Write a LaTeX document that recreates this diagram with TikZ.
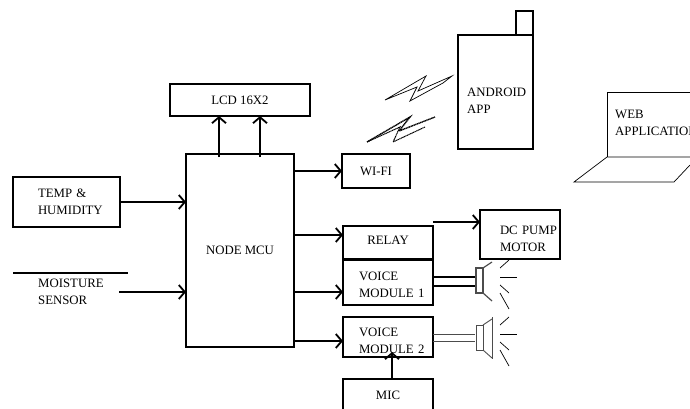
\documentclass[tikz,border=0pt]{standalone}
\usepackage{fontspec}
\setmainfont{Liberation Serif}
\usetikzlibrary{arrows.meta}
\newcommand{\vmispeaker}[1][]
{\begin{scope}[#1]
	\draw  (-7,-9) rectangle (0,16);
	\draw  (0,-9) -- (9,-15);
	\draw  (0,16) -- (9,24);
\end{scope}
}
\newcommand{\vmisound}[1][]
{\begin{scope}[#1]
	\draw  (17,-9) -- (26,-17);
	\draw  (17,0) -- (34,0);
	\draw  (17,8) -- (26,16);
	\draw  (17,16) -- (26,32);
\end{scope}
}
\tikzset{
	blockbox/.style={draw,line width=1.8pt,font=\fontsize{12.8}{17}\selectfont,align=left,outer sep=0pt},
	plaintext/.style={font=\fontsize{12.8}{17}\selectfont,align=left,anchor=west,inner sep=0pt},
	signal/.style={->,line width=1.8pt},
	thinline/.style={line width=.7pt},
}
\begin{document}
\begin{tikzpicture}[x={(1pt,0)},y={(0,-1pt)},>={Straight Barb[length=6pt,width=14pt]}]

\useasboundingbox (0,0) rectangle (690,409);
\clip (0,0) rectangle (690,409);

% blocks
\node [blockbox,minimum width=140pt,minimum height=32pt,align=center] (lcd) at (240,100) {LCD 16X2};
\node [blockbox,minimum width=108pt,minimum height=193pt,align=center,line width=1.5pt] (mcu) at (240,250.5) {NODE MCU};
\node [blockbox,text width=57pt,inner xsep=25pt,minimum height=50pt] (temp) at (66.5,202) {TEMP \&\\HUMIDITY};
\node [blockbox,minimum width=68pt,minimum height=34pt,align=center] (wifi) at (376,171) {WI-FI};
\node [blockbox,minimum width=90pt,minimum height=33pt,align=center] (relay) at (388,242.5) {\rule[-4pt]{0pt}{4pt}RELAY};
\node [blockbox,text width=58pt,inner xsep=16pt,minimum height=45pt] (voiceone) at (388,282.5) {\rule{0pt}{13pt}VOICE\\\mbox{MODULE 1}};
\node [blockbox,text width=58pt,inner xsep=16pt,minimum height=40pt] (voicetwo) at (388,337) {\rule{0pt}{17pt}VOICE\\\mbox{MODULE 2}};
\node [blockbox,minimum width=90pt,minimum height=32pt,align=center] (mic) at (388,395) {MIC};
\node [blockbox,text width=40pt,inner xsep=20pt,minimum height=49pt] (pump) at (520,234.5) {\rule{0pt}{17pt}\mbox{DC PUMP}\\MOTOR};
\node [plaintext] (moisture) at (38,291.5) {MOISTURE\\SENSOR};

% moisture sensor rule
\coordinate (moistureleft) at (13,273);
\coordinate (moistureright) at (128,273);
\draw [line width=1.5pt] (moistureleft) -- (moistureright);

% connectors
\coordinate (lcdleft) at (219,157);
\coordinate (lcdright) at (260,157);
\draw [signal] (lcdleft) -- (lcdleft |- lcd.south);
\draw [signal] (lcdright) -- (lcdright |- lcd.south);
\draw [signal] (temp) -- (temp -| mcu.west);
\coordinate (moistureout) at (119,292);
\draw [signal] (moistureout) -- (moistureout -| mcu.west);
\draw [signal] (mcu.east |- wifi) -- (wifi);
\coordinate (relayin) at (343,235);
\coordinate (voiceonein) at (343,292);
\coordinate (voicetwoin) at (343,341);
\draw [signal] (relayin -| mcu.east) -- (relayin);
\draw [signal] (voiceonein -| mcu.east) -- (voiceonein);
\draw [signal] (voicetwoin -| mcu.east) -- (voicetwoin);
\coordinate (pumpin) at (433,222);
\draw [signal] (pumpin) -- (pumpin -| pump.west);
\coordinate (micout) at (392,352);
\draw [signal] (micout |- mic.north) -- (micout);

% speakers
\coordinate (hornone) at (483,277);
\coordinate (horntwo) at (483,334);
\draw [line width=1.5pt] (voiceone.east |- hornone) -- ++(43,0);
\draw [line width=1.5pt] (voiceone.east |- hornone) ++(0,9) -- ++(43,0);
\draw [line width=.8pt,black!70] (voicetwo.east |- horntwo) -- ++(42,0);
\draw [line width=.8pt,black!70] (voicetwo.east |- horntwo) ++(0,7) -- ++(42,0);
\vmispeaker[line width=1.2pt,black!70,shift={(hornone)}];
\vmispeaker[line width=.9pt,black!70,shift={(horntwo)}];
\draw [line width=.9pt,black!70] (492,317) -- (492,359);
\vmisound[thinline,shift={(483,277)}];
\vmisound[thinline,shift={(483,334)}];

% phone
\draw [line width=1.6pt] (458,35) rectangle (533,149);
\draw [line width=1.6pt] (516,11) rectangle (533,35);
\node [plaintext] (android) at (467,100.5) {ANDROID\\APP};

% wireless marks
\draw [thinline] (385,100) -- (426,76) -- (418,91) -- (452,76) -- (443,83) -- (410,101) -- (417,87) -- cycle;
\draw [line width=1.4pt,dash pattern=on 1.2pt off .5pt] (367,142) -- (410,117) -- (399,131) -- (435,117);
\draw [line width=1pt,dash pattern=on 1.2pt off .5pt] (425,127) -- (393,142) -- (400,127) -- (367,142);

% laptop
\draw [thinline] (607,157) -- (607,92) -- (700,92);
\draw [thinline] (700,157) -- (607,157) -- (574,182) -- (674,182) -- (690,165);
\node [plaintext] (web) at (615,122.5) {WEB\\APPLICATION};

\end{tikzpicture}
\end{document}
